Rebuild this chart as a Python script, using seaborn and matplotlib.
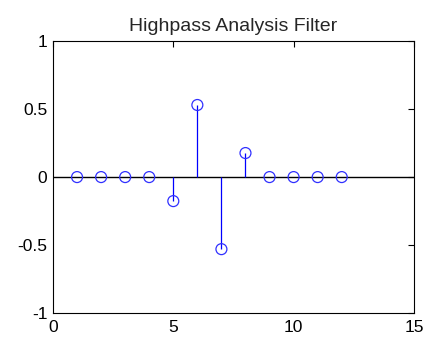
import numpy as np
import pandas as pd
import matplotlib
matplotlib.use("Agg")
import matplotlib.pyplot as plt
import seaborn as sns

# Highpass decomposition filter coefficients
n = list(range(1, 13))
coeffs = [0, 0, 0, 0, -0.1768, 0.5303, -0.5303, 0.1768, 0, 0, 0, 0]
xticks = [0, 5, 10, 15]
yticks = [-1, -0.5, 0, 0.5, 1]
title = "Highpass Analysis Filter"

sns.set_style("white")
plt.rcParams["font.family"] = ["Liberation Sans", "DejaVu Sans"]

df = pd.DataFrame({"n": n, "h": coeffs})

fig = plt.figure(figsize=(4.38, 3.43), dpi=100)
ax = fig.add_axes([0.121, 0.0875, 0.824, 0.7925])

# baseline across the full x range
ax.axhline(0, color="black", lw=1.0, zorder=1)
# stems
ax.vlines(df["n"], 0, df["h"], color="#0000ff", lw=0.9, zorder=2)
# open circle markers
sns.scatterplot(data=df, x="n", y="h", ax=ax, marker="o", s=62,
                facecolors="none", edgecolor="#3030ff", linewidth=0.9,
                zorder=3, legend=False)

ax.set_xlim(0, 15)
ax.set_ylim(-1, 1)
ax.set_xticks(xticks)
ax.set_xticklabels([str(t) for t in xticks])
ax.set_yticks(yticks)
ax.set_yticklabels(["-1", "-0.5", "0", "0.5", "1"])
ax.set_xlabel("")
ax.set_ylabel("")
ax.set_title(title, fontsize=14, pad=7)

ax.tick_params(axis="y", pad=4)
ax.tick_params(axis="x", pad=5)
ax.tick_params(direction="in", length=4, width=0.8, top=True, right=True,
               labelsize=12.5, colors="black")
for s in ax.spines.values():
    s.set_visible(True)
    s.set_color("black")
    s.set_linewidth(0.8)

fig.savefig("out.png", dpi=100, facecolor="white")
